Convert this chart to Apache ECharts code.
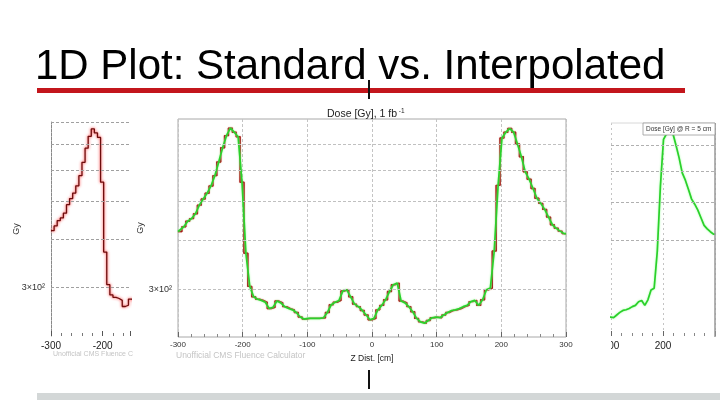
<!DOCTYPE html>
<html><head><meta charset="utf-8">
<script src="https://cdn.jsdelivr.net/npm/echarts@6/dist/echarts.min.js"></script>
<style>html,body{margin:0;padding:0;background:#fff}#c{width:720px;height:405px}</style>
</head><body><div id="c"></div>
<script>
// ---- data ----
const slideTitle = '1D Plot: Standard vs. Interpolated';
const plotTitle = 'Dose [Gy], 1 fb';
const binStart = -300;
const binWidth = 6;
// dose per 6 cm bin, Z from -300 to 300 cm
const dose = [
  420,432,446,453,466,490,508,525,548,582,
  630,685,735,768,750,730,560,370,305,287,
  283,281,278,268,270,280,277,271,268,266,
  262,255,252,253,253,253,253,254,262,274,
  278,281,297,299,287,275,271,265,258,251,
  253,266,273,282,296,308,311,280,277,271,
  263,253,248,246,250,254,255,254,258,262,
  265,266,268,271,273,279,281,273,282,299,
  302,375,550,725,750,766,750,700,650,595,
  570,540,510,495,478,457,437,428,421,415
];
const gridValuesLeft = [300,400,500,600,700,800];
const gridValuesMain = [300,400,500,600,700];
const gridValuesRight = [400,500,600,700];
const tickLabel300 = '3×10²';

// ---- build points ----
const pts = dose.map((v,i)=>[binStart + binWidth*(i+0.5), v]);
const ptsEdge = [[binStart, dose[0]], ...pts, [binStart + binWidth*dose.length, dose[dose.length-1]]];

const redStyleLeft = {color:'#6e0d0d', width:1.3, shadowColor:'rgba(255,20,20,0.95)', shadowBlur:3};
const redStyleMain = {color:'#9a1010', width:1.4, shadowColor:'rgba(230,30,30,0.8)', shadowBlur:1};
const greenStyle = {color:'#2bd02b', width:1.7, shadowColor:'rgba(140,255,140,0.9)', shadowBlur:2};

function gridMark(vals, withLabel, color){
  return {
    silent:true, symbol:'none', animation:false,
    lineStyle:{color:color, type:[3,2], width:1},
    label:{show:false},
    data: vals.map(v => v===300 && withLabel ?
      {yAxis:v, label:{show:true, position:'start', formatter:tickLabel300, fontSize:9, color:'#333', distance:6, fontFamily:'Liberation Sans'}} :
      {yAxis:v})
  };
}

const chart = echarts.init(document.getElementById('c'), null, {renderer:'canvas'});
const axisFont = {fontFamily:'Liberation Sans', color:'#333'};

chart.setOption({
  animation:false,
  backgroundColor:'#fff',
  title:{
    text:'{a|'+plotTitle+'}{s| -1}', left:322, top:103,
    textStyle:{fontWeight:'normal', rich:{a:{fontSize:10.5, fontWeight:'normal', fontFamily:'Liberation Sans', color:'#222'}, s:{fontSize:6.5, fontWeight:'normal', fontFamily:'Liberation Sans', color:'#222', verticalAlign:'top', padding:[0,0,6,0]}}}
  },
  grid:[
    {left:51, top:122, width:79, height:214, show:false},
    {left:178, top:119, width:388, height:218, show:true, borderColor:'#a8a8a8', borderWidth:1},
    {left:611, top:123, width:104, height:213, show:false}
  ],
  xAxis:[
    {gridIndex:0, type:'value', min:-300, max:-147, interval:100,
     axisLine:{show:false}, axisTick:{show:true, inside:true, length:5, lineStyle:{color:'#555'}},
     minorTick:{show:true, splitNumber:5, length:3, lineStyle:{color:'#777'}},
     splitLine:{show:false},
     axisLabel:{...axisFont, fontSize:10, margin:5, color:'#222', showMaxLabel:false}},
    {gridIndex:1, type:'value', min:-300, max:300, interval:100,
     axisLine:{show:false}, axisTick:{show:true, inside:true, length:5, lineStyle:{color:'#666'}},
     minorTick:{show:true, splitNumber:5, length:3, lineStyle:{color:'#888'}},
     splitLine:{show:true, lineStyle:{color:'#c4c4c4', type:[3,2]}},
     axisLabel:{...axisFont, fontSize:8, margin:4},
     name:'Z Dist. [cm]', nameLocation:'middle', nameGap:17, nameTextStyle:{...axisFont, fontSize:8.5, color:'#222'}},
    {gridIndex:2, type:'value', min:100, max:300, interval:100,
     axisLine:{show:false}, axisTick:{show:true, inside:true, length:5, lineStyle:{color:'#666'}},
     minorTick:{show:true, splitNumber:5, length:3, lineStyle:{color:'#888'}},
     splitLine:{show:true, lineStyle:{color:'#c4c4c4', type:[2,3]}},
     axisLabel:{...axisFont, fontSize:10, margin:5, color:'#222', showMaxLabel:false}}
  ],
  yAxis:[
    {gridIndex:0, type:'log', min:225, max:800,
     axisLine:{show:true, lineStyle:{color:'#888', type:[3,1]}}, axisTick:{show:false},
     axisLabel:{show:false}, splitLine:{show:false}, minorTick:{show:false},
     name:'Gy', nameLocation:'middle', nameRotate:90, nameGap:30, nameTextStyle:{...axisFont, fontSize:9}},
    {gridIndex:1, type:'log', min:227, max:810,
     axisLine:{show:false}, axisTick:{show:false},
     axisLabel:{show:false}, splitLine:{show:false}, minorTick:{show:false},
     name:'Gy', nameLocation:'middle', nameRotate:90, nameGap:33, nameTextStyle:{...axisFont, fontSize:9}},
    {gridIndex:2, type:'log', min:228, max:798,
     axisLine:{show:false}, axisTick:{show:false},
     axisLabel:{show:false}, splitLine:{show:false}, minorTick:{show:false}}
  ],
  series:[
    {name:'Standard', type:'line', xAxisIndex:0, yAxisIndex:0, data:ptsEdge, step:'middle', showSymbol:false, lineStyle:redStyleLeft, z:3,
     markLine:gridMark(gridValuesLeft, true, '#a0a0a0')},
    {name:'Standard', type:'line', xAxisIndex:1, yAxisIndex:1, data:ptsEdge, step:'middle', showSymbol:false, lineStyle:redStyleMain, z:3,
     markLine:gridMark(gridValuesMain, true, '#c0c0c0')},
    {name:'Interpolated', type:'line', xAxisIndex:1, yAxisIndex:1, data:ptsEdge, showSymbol:false, lineStyle:greenStyle, z:4},
    {name:'Interpolated', type:'line', xAxisIndex:2, yAxisIndex:2, data:ptsEdge, showSymbol:false, lineStyle:greenStyle, z:4,
     markLine:gridMark(gridValuesRight, false, '#b0b0b0')}
  ],
  graphic:[
    {type:'text', left:35, top:46, z:100, style:{text:slideTitle, font:'42px "Liberation Sans"', fill:'#000'}},
    {type:'rect', shape:{x:37, y:88, width:648, height:5}, style:{fill:'#c3161c'}, z:100},
    {type:'rect', shape:{x:368, y:80, width:2, height:19}, style:{fill:'#111'}, z:101},
    {type:'rect', shape:{x:368, y:370, width:2, height:19}, style:{fill:'#111'}, z:101},
    {type:'rect', shape:{x:37, y:393, width:683, height:7}, style:{fill:'#d3d7d7'}, z:100},
    {type:'text', left:176, top:351, z:100, style:{text:'Unofficial CMS Fluence Calculator', font:'8.5px "Liberation Sans"', fill:'#c4c4c4'}},
    {type:'text', left:53, top:351, z:100, style:{text:'Unofficial CMS Fluence C', font:'7px "Liberation Sans"', fill:'#c4c4c4'}},
    {type:'rect', shape:{x:588, y:337, width:23, height:16}, style:{fill:'#fff'}, z:100},
    {type:'line', shape:{x1:715, y1:123, x2:715, y2:337}, style:{stroke:'#999', lineWidth:1.5}, z:100},
    {type:'line', shape:{x1:611, y1:123, x2:715, y2:123}, style:{stroke:'#d8d8d8', lineWidth:1}, z:100},
    {type:'rect', shape:{x:643, y:123, width:72, height:12}, style:{fill:'#fff', stroke:'#999', lineWidth:0.8}, z:101},
    {type:'text', left:646, top:125.5, z:102, style:{text:'Dose [Gy] @ R = 5 cm', font:'6.5px "Liberation Sans"', fill:'#333'}}
  ]
});
</script></body></html>
